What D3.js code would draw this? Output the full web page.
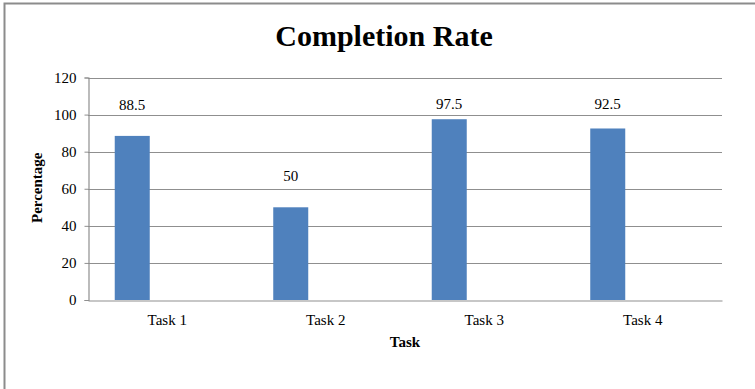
<!DOCTYPE html>
<html>
<head>
<meta charset="utf-8">
<script src="https://cdn.jsdelivr.net/npm/d3@7"></script>
<style>
  html, body { margin: 0; padding: 0; background: #fff; }
  svg { display: block; }
  svg text { font-family: "Times New Roman", "Liberation Serif", "DejaVu Serif", Times, serif !important; fill: #000; }
</style>
</head>
<body>
<script>
const tasks = ["Task 1", "Task 2", "Task 3", "Task 4"];
const completion = [88.5, 50, 97.5, 92.5];
const series = ["Completion", "S2", "S3"];
const yTicks = [0, 20, 40, 60, 80, 100, 120];
const title = "Completion Rate";
const xTitle = "Task";
const yTitle = "Percentage";

const W = 755, H = 389;
const margin = { left: 88, right: 33, top: 77.5, bottom: 89 };

const svg = d3.select("body").append("svg").attr("width", W).attr("height", H);

// outer frame
svg.append("rect").attr("x", 4.5).attr("y", 3.5).attr("width", W).attr("height", H)
  .attr("fill", "none").attr("stroke", "#8c8c8c").attr("stroke-width", 2);

const x = d3.scaleBand().domain(tasks).range([margin.left, W - margin.right]).paddingInner(0).paddingOuter(0);
const xs = d3.scaleBand().domain(series).range([0, x.bandwidth()]).paddingInner(0).paddingOuter(0.764);
const y = d3.scaleLinear().domain([0, 120]).range([H - margin.bottom, margin.top]);

// gridlines
svg.append("g").selectAll("line").data(yTicks.filter(d => d > 0)).join("line")
  .attr("x1", margin.left).attr("x2", W - margin.right)
  .attr("y1", d => Math.round(y(d)) + 0.5).attr("y2", d => Math.round(y(d)) + 0.5)
  .attr("stroke", "#8f8f8f").attr("stroke-width", 1.2);

// y axis
const yAxis = svg.append("g").attr("transform", `translate(${margin.left + 0.5},0)`)
  .call(d3.axisLeft(y).tickValues(yTicks).tickSize(4).tickPadding(8).tickFormat(d3.format("d")));
yAxis.attr("font-family", null);
yAxis.select(".domain").attr("stroke", "#8f8f8f").attr("stroke-width", 1.2);
yAxis.selectAll(".tick line").attr("stroke", "#8f8f8f");
yAxis.selectAll(".tick text").style("font-size", "15px");

// x axis
const xAxis = svg.append("g").attr("transform", `translate(0,${Math.round(y(0)) + 0.5})`)
  .call(d3.axisBottom(x).tickSize(0).tickPadding(14));
xAxis.attr("font-family", null);
xAxis.select(".domain").attr("stroke", "#8f8f8f").attr("stroke-width", 1.2);
xAxis.selectAll(".tick text").style("font-size", "15px");

// bars
svg.append("g").selectAll("rect").data(tasks).join("rect")
  .attr("x", (d) => x(d) + xs(series[0]))
  .attr("width", xs.bandwidth())
  .attr("y", (d, i) => y(completion[i]))
  .attr("height", (d, i) => y(0) - y(completion[i]))
  .attr("fill", "#4f81bd");

// data labels
svg.append("g").selectAll("text").data(tasks).join("text")
  .attr("x", (d) => x(d) + xs(series[0]) + xs.bandwidth() / 2)
  .attr("y", (d, i) => y(Math.min(completion[i] + 17, 106)))
  .attr("dy", "0.35em")
  .attr("text-anchor", "middle")
  .style("font-size", "15px")
  .text((d, i) => String(completion[i]));

// title
svg.append("text").attr("x", 384).attr("y", 35).attr("dy", "0.35em")
  .attr("text-anchor", "middle").style("font-size", "30px").style("font-weight", "bold")
  .text(title);

// axis titles
svg.append("text").attr("x", (margin.left + W - margin.right) / 2).attr("y", 342).attr("dy", "0.35em")
  .attr("text-anchor", "middle").style("font-size", "15px").style("font-weight", "bold")
  .text(xTitle);
svg.append("text").attr("transform", `translate(37,${(y(0) + y(120)) / 2 - 1}) rotate(-90)`)
  .attr("dy", "0.35em").attr("text-anchor", "middle")
  .style("font-size", "15px").style("font-weight", "bold")
  .text(yTitle);
</script>
</body>
</html>
